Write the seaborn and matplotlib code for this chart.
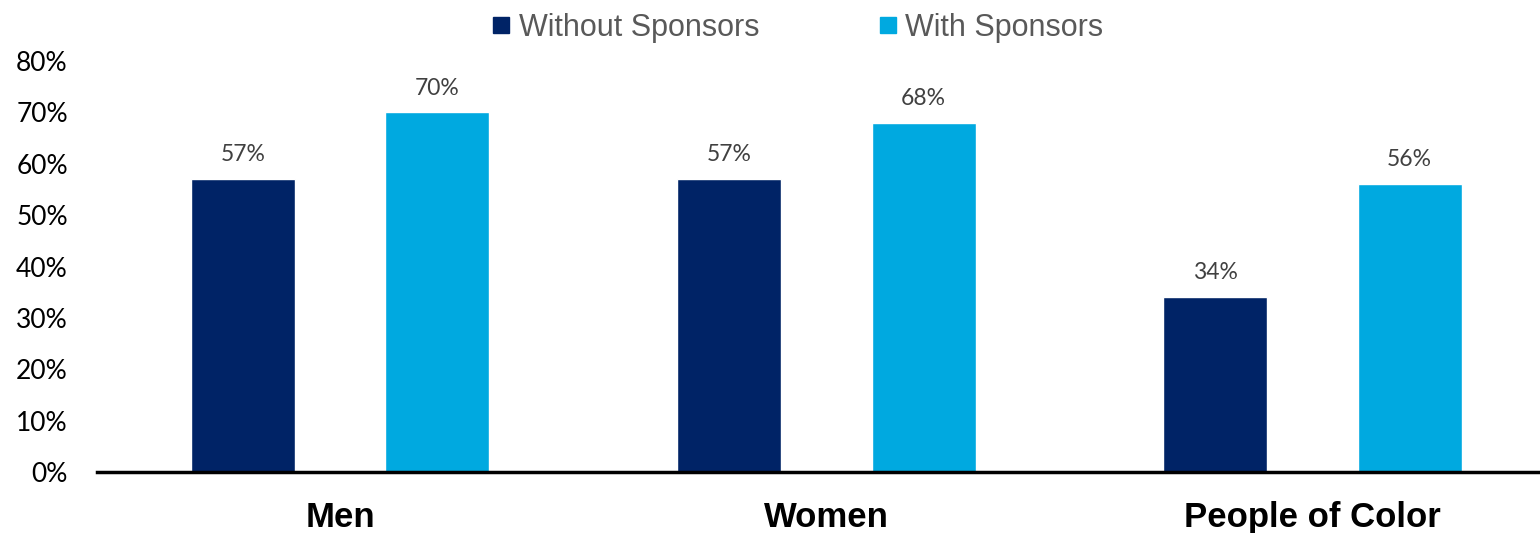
import pandas as pd
import matplotlib.pyplot as plt
import seaborn as sns
from matplotlib.lines import Line2D

sns.set_theme(style="white")

groups = ["Men", "Women", "People of Color"]
without_sponsors = [57, 57, 34]
with_sponsors = [70, 68, 56]
series = ["Without Sponsors", "With Sponsors"]
colors = ["#002366", "#00A9E0"]

df = pd.DataFrame({
	"group": groups * 2,
	"series": [series[0]] * 3 + [series[1]] * 3,
	"value": without_sponsors + with_sponsors,
})

fig = plt.figure(figsize=(15.4, 5.33), dpi=100)
ax = fig.add_axes([0.063, 0.1144, 0.937, 0.7711])

sns.barplot(data=df, x="group", y="value", hue="series", palette=colors,
	width=0.8, gap=0.465, saturation=1, legend=False, ax=ax)

for cont in ax.containers:
	ax.bar_label(cont, labels=[f"{v:.0f}%" for v in cont.datavalues], padding=10,
		fontsize=16.5, color="#404040", family="Lato")

ax.set_ylim(0, 80)
ax.set_xlim(-0.5, 2.468)
ax.set_yticks(range(0, 81, 10))
ax.set_yticklabels([f"{t}%" for t in range(0, 81, 10)], fontsize=19, family="Lato", color="black")
ax.tick_params(axis="y", length=0, pad=21)
ax.tick_params(axis="x", length=0, pad=21)
for lab in ax.get_xticklabels():
	lab.set_fontsize(25)
	lab.set_fontweight("bold")
	lab.set_family("Liberation Sans")
	lab.set_color("black")
ax.set_xlabel("")
ax.set_ylabel("")
for s in ["top", "right", "left"]:
	ax.spines[s].set_visible(False)
ax.spines["bottom"].set_color("black")
ax.spines["bottom"].set_linewidth(2.5)

# legend sits above the axes, centred on the figure
handles = [Line2D([], [], marker="s", linestyle="", markersize=12, color=c) for c in colors]
fig.legend(handles, series, loc="center", bbox_to_anchor=(0.516, 0.948), ncol=2, frameon=False,
	prop={"family": "Liberation Sans", "size": 22}, labelcolor="#595959",
	handletextpad=0.07, columnspacing=3.7, handlelength=1.0)

fig.savefig("out.png", dpi=100)
